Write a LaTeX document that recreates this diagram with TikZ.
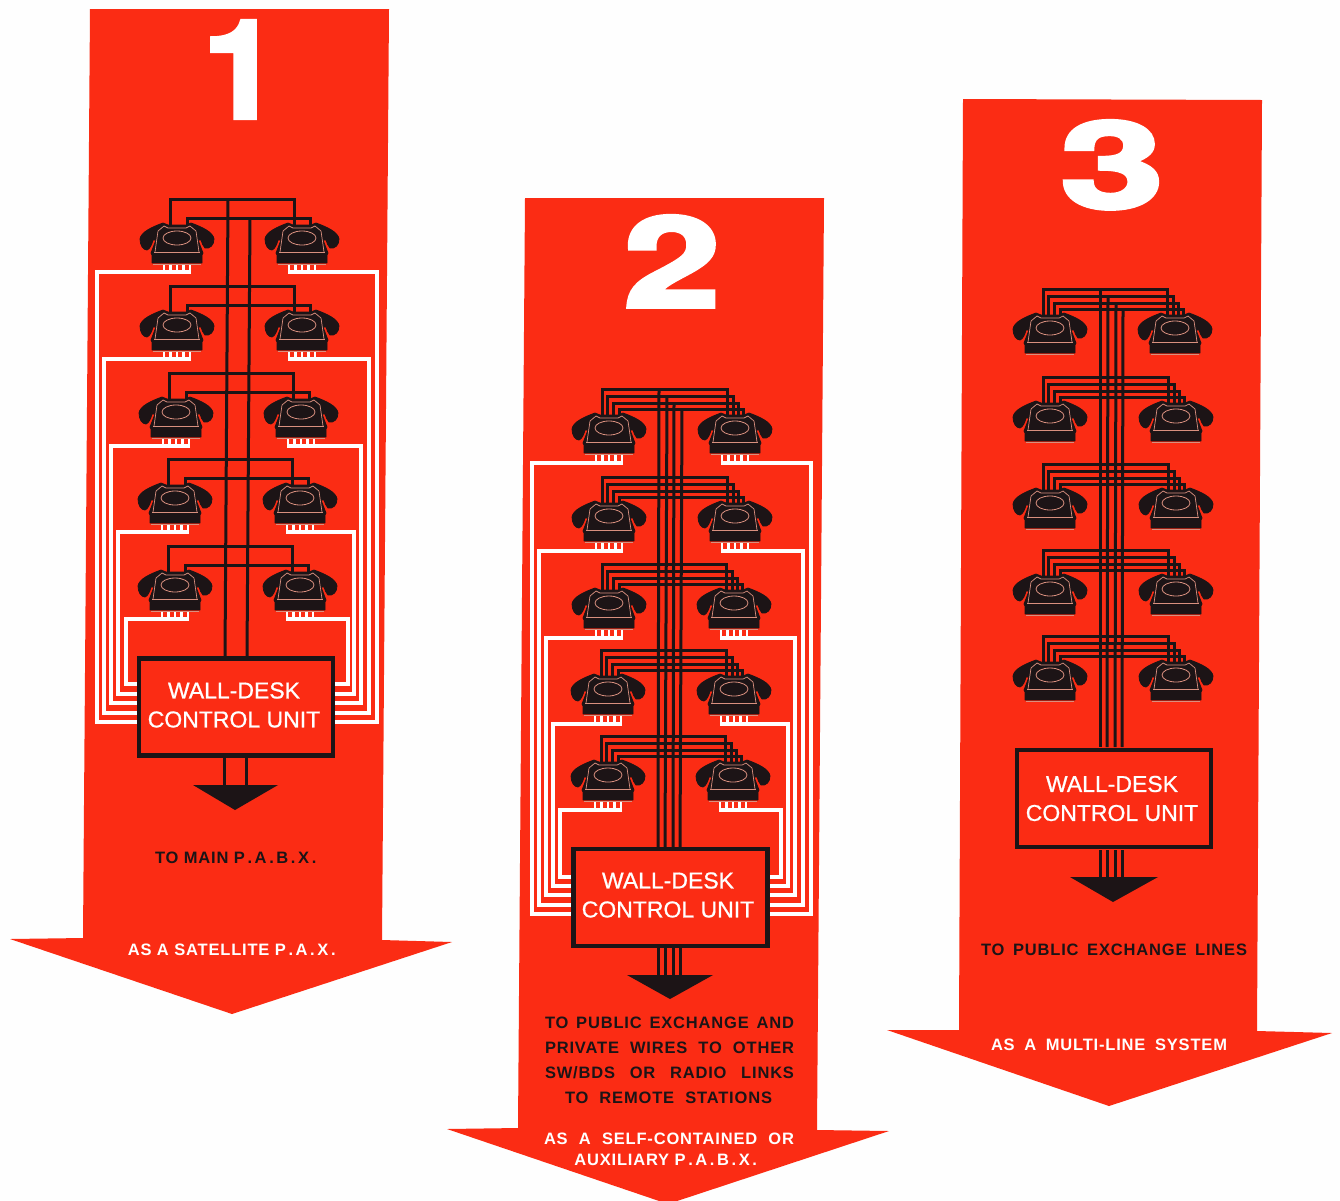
\documentclass[tikz,border=0pt]{standalone}
\usepackage{fontspec}
\setmainfont{Liberation Sans}
\newfontfamily\digitfont[FakeBold=3]{TeX Gyre Heros Bold}
\newfontfamily\boxfont[FakeBold=0.8]{Liberation Sans}
\newfontfamily\lblfont[LetterSpace=5]{Liberation Sans Bold}
\newcommand{\dt}{\kern2.6pt.\kern2.6pt}
\pgfdeclarelayer{redlayer}
\pgfdeclarelayer{wirelayer}
\pgfsetlayers{redlayer,wirelayer,main}
\definecolor{panelred}{HTML}{FB2C14}
\definecolor{ink}{HTML}{1C1416}
\definecolor{rim}{HTML}{D9907F}
\definecolor{paper}{HTML}{FEFEFE}
\tikzset{
  x=1pt,y=-1pt,
  panel/.style={fill=panelred,draw=none},
  blackwire/.style={draw=ink,line width=3pt,line cap=butt},
  whitewire/.style={draw=white,line width=3.2pt,line cap=butt,line join=miter},
  ctrlbox/.style={draw=ink,fill=panelred,line width=4.5pt,inner sep=0pt,minimum width=194pt,minimum height=97pt},
  boxtext/.style={align=center,text=white,inner sep=0pt,font=\boxfont\fontsize{23}{29}\selectfont},
  bigdigit/.style={text=white,inner sep=0pt,anchor=base,font=\digitfont\fontsize{137}{137}\selectfont},
  lbl/.style={text=white,inner sep=0pt,font=\lblfont\fontsize{16.5}{16.5}\selectfont},
  dlbl/.style={lbl,text=ink},
  pics/phone/.style={code={
    \filldraw[ink,line width=.8pt,line join=round] (-37,16) .. controls (-36,9) and (-25,4) .. (-14,0) -- (-9,2) -- (9,2) -- (14,0)
      .. controls (25,4) and (36,9) .. (37,16) .. controls (37,22) and (33,26) .. (28,25)
      .. controls (26,23) and (25,20) .. (24,17) -- (21,17) -- (26,30) -- (25,32) -- (25,40) -- (-25,40) -- (-25,32) -- (-26,30) -- (-21,17) -- (-24,17)
      .. controls (-25,21) and (-27,26) .. (-30,27) .. controls (-34,27) and (-37,22) .. (-37,16) -- cycle;
    \draw[rim,line width=.7pt] (-22,29) -- (-19,8) -- (-13,3) -- (-9,5) -- (9,5) -- (13,3) -- (19,8) -- (22,29);
    \draw[rim,line width=.7pt] (-23,29) -- (23,29);
    \draw[rim,line width=.7pt] (-24,41) -- (24,41);
    \draw[rim,line width=.8pt] (0,15) ellipse [x radius=14,y radius=7];
  }},
  pics/comb/.style={code={
    \foreach \t in {-13,-6.5,0,6.5,13} \draw[white,line width=2.4pt] (\t,41) -- (\t,50);
  }}
}
\begin{document}
\begin{tikzpicture}
\useasboundingbox (0,0) rectangle (1340,1200);
\begin{pgfonlayer}{redlayer}
\fill[paper] (0,0) rectangle (1340,1200);
\begin{scope}
\clip (0,0) rectangle (1340,1200);
\fill[panel] (90,9) -- (389,9) -- (382,940) -- (452,942) -- (232,1014) -- (10,939) -- (83,938) -- cycle;
\fill[panel] (525,198) -- (824,198) -- (817,1130) -- (889,1131) -- (668,1204) -- (447,1129) -- (518,1128) -- cycle;
\fill[panel] (963,99) -- (1262,100) -- (1257,1031) -- (1332,1033) -- (1109,1106) -- (887,1030) -- (959,1030) -- cycle;
\end{scope}
\end{pgfonlayer}
% ---- digits
\node[bigdigit] (n1) at (241,118) {1};
\node[bigdigit,xscale=1.27,yscale=.92] (n2) at (672,307) {2};
\node[bigdigit,xscale=1.36,yscale=.88] (n3) at (1112,208) {3};
% ---- phone anchors
\foreach \r/\t/\a/\b in {1/223/177/302,2/310/177/302,3/397/176/301,4/483/175/300,5/570/175/300}{
  \coordinate (A\r L) at (\a,\t); \coordinate (A\r R) at (\b,\t);}
\foreach \r/\t/\a/\b in {1/413/609/735,2/501/609/735,3/588/609/734,4/674/608/734,5/760/608/733}{
  \coordinate (B\r L) at (\a,\t); \coordinate (B\r R) at (\b,\t);}
\foreach \r/\t/\a/\b in {1/313/1050/1175,2/401/1050/1176,3/488/1050/1176,4/574/1050/1176,5/660/1050/1176}{
  \coordinate (C\r L) at (\a,\t); \coordinate (C\r R) at (\b,\t);}
% ---- control units
\node[ctrlbox] (boxA) at (236,707) {};
\node[ctrlbox] (boxB) at (670.5,897.5) {};
\node[ctrlbox] (boxC) at (1114,798.5) {};
\node[boxtext] (textA) at (234,705) {WALL-DESK\\CONTROL UNIT};
\node[boxtext] (textB) at (668,895) {WALL-DESK\\CONTROL UNIT};
\node[boxtext] (textC) at (1112,798.5) {WALL-DESK\\CONTROL UNIT};
% ---- arrowheads
\coordinate (tipA) at (235,810); \coordinate (tipB) at (670,999); \coordinate (tipC) at (1113,902);
\fill[ink] (193,785) -- (278,785) -- (tipA) -- cycle;
\fill[ink] (627,975) -- (713,975) -- (tipB) -- cycle;
\fill[ink] (1070,877) -- (1158,877) -- (tipC) -- cycle;
% ---- wires
\begin{pgfonlayer}{wirelayer}
\foreach \r/\vl/\vr/\yy in {1/97/377/722,2/104/369/713,3/111/361/703,4/118/354/694,5/126/348/684}{
  \draw[whitewire] ([shift={(14,49)}]A\r L) -| (\vl,\yy) -- (boxA.west |- \vl,\yy);
  \draw[whitewire] ([shift={(-14,49)}]A\r R) -| (\vr,\yy) -- (boxA.east |- \vr,\yy);
  \pic at (A\r L) {comb}; \pic at (A\r R) {comb};}
\foreach \r/\vl/\vr/\yy in {1/532/811/914,2/539/803/905,3/546/795/895,4/553/788/886,5/560/781/877}{
  \draw[whitewire] ([shift={(14,50)}]B\r L) -| (\vl,\yy) -- (boxB.west |- \vl,\yy);
  \draw[whitewire] ([shift={(-14,50)}]B\r R) -| (\vr,\yy) -- (boxB.east |- \vr,\yy);
  \pic at (B\r L) {comb}; \pic at (B\r R) {comb};}
\foreach \r in {1,...,5}{
  \draw[blackwire] ([shift={(-7,2)}]A\r L) |- ++(0,-26) -| ([shift={(-8,2)}]A\r R);
  \draw[blackwire] ([shift={(10,2)}]A\r L) |- ++(0,-7) -| ([shift={(8,2)}]A\r R);}
\draw[blackwire] (228,199) -- (225,657);
\draw[blackwire] (250,218) -- (247,657);
\draw[blackwire] (224,757) -- (224,785);
\draw[blackwire] (246,757) -- (246,785);
\foreach \p in {B,C}{
 \foreach \r in {1,...,5}{
  \draw[blackwire] ([shift={(-7,2)}]\p\r L) |- ++(0,-26) -| ([shift={(-8,2)}]\p\r R);
  \draw[blackwire] ([shift={(-2,2)}]\p\r L) |- ++(0,-19) -| ([shift={(-2,2)}]\p\r R);
  \draw[blackwire] ([shift={(4,2)}]\p\r L) |- ++(0,-12) -| ([shift={(3,2)}]\p\r R);
  \draw[blackwire] ([shift={(10,2)}]\p\r L) |- ++(0,-6) -| ([shift={(8,2)}]\p\r R);
 }}
\foreach \xa/\xb/\ya in {659/658/388,667/665/395,674/673/402,682/680/408}{
  \draw[blackwire] (\xa,\ya) -- (\xb,847);
  \draw[blackwire] (\xb,948) -- (\xb,975);}
\foreach \xa/\xb/\ya in {1100/1100/289,1108/1107/296,1116/1115/303,1123/1122/309}{
  \draw[blackwire] (\xa,\ya) -- (\xb,747);
  \draw[blackwire] (\xb,850) -- (\xb,877);}
\end{pgfonlayer}
% ---- phones
\foreach \p in {A,B,C}\foreach \r in {1,...,5}{
  \pic at (\p\r L) {phone}; \pic at (\p\r R) {phone};}
% ---- labels
\node[dlbl] (t1) at (237,858) {TO MAIN P\dt A\dt B\dt X\dt};
\node[lbl] (t2) at (233,950) {AS A SATELLITE P\dt A\dt X\dt};
\node[dlbl] (t3) at (669.5,1023) {\makebox[249pt][s]{TO PUBLIC EXCHANGE AND}};
\node[dlbl] (t4) at (669.5,1048) {\makebox[249pt][s]{PRIVATE WIRES TO OTHER}};
\node[dlbl] (t5) at (669.5,1073) {\makebox[249pt][s]{SW/BDS OR RADIO LINKS}};
\node[dlbl] (t6) at (668.5,1098) {\makebox[207pt][s]{TO REMOTE STATIONS}};
\node[lbl] (t7) at (669,1139) {\makebox[250pt][s]{AS A SELF-CONTAINED OR}};
\node[lbl] (t8) at (667,1160) {AUXILIARY P\dt A\dt B\dt X\dt};
\node[dlbl] (t9) at (1114,950) {\makebox[266pt][s]{TO PUBLIC EXCHANGE LINES}};
\node[lbl] (t10) at (1109,1045) {\makebox[236pt][s]{AS A MULTI-LINE SYSTEM}};
\end{tikzpicture}
\end{document}
